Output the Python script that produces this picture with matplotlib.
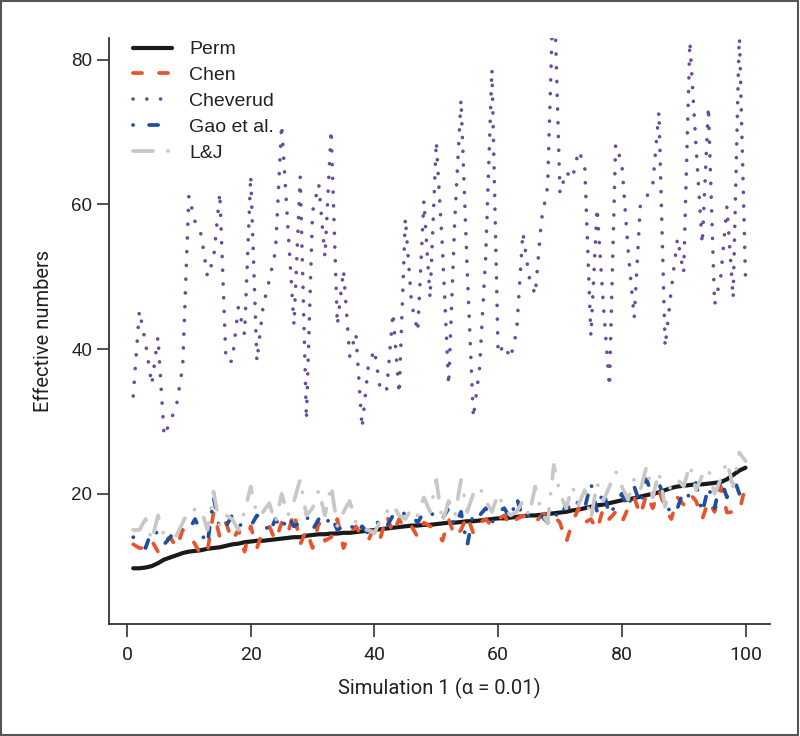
import matplotlib
matplotlib.use("Agg")
import matplotlib.pyplot as plt
from matplotlib.patches import Rectangle

sim = list(range(1, 101))

perm = [9.7, 9.7, 9.8, 10.0, 10.4, 10.9, 11.2, 11.5, 11.8, 12.0,
        12.1, 12.2, 12.4, 12.5, 12.6, 12.8, 13.0, 13.1, 13.3, 13.4,
        13.5, 13.5, 13.6, 13.7, 13.8, 13.9, 14.0, 14.0, 14.2, 14.3,
        14.4, 14.4, 14.5, 14.5, 14.6, 14.6, 14.7, 14.8, 14.9, 15.0,
        15.1, 15.2, 15.3, 15.4, 15.5, 15.6, 15.6, 15.7, 15.7, 15.8,
        15.9, 16.0, 16.0, 16.1, 16.2, 16.2, 16.3, 16.4, 16.5, 16.6,
        16.6, 16.7, 16.8, 16.9, 17.0, 17.0, 17.1, 17.2, 17.3, 17.4,
        17.5, 17.7, 17.8, 18.0, 18.2, 18.4, 18.5, 18.7, 18.9, 19.1,
        19.2, 19.4, 19.6, 19.8, 20.0, 20.2, 20.5, 20.8, 21.0, 21.1,
        21.2, 21.3, 21.3, 21.4, 21.5, 21.6, 22.0, 22.6, 23.2, 23.6]

chen = [13.0, 12.5, 12.5, 13.5, 12.0, 13.5, 14.0, 12.5, 15.0, 14.5,
        13.0, 11.5, 12.0, 17.5, 14.0, 16.0, 13.5, 15.0, 12.0, 15.5,
        12.5, 15.0, 15.5, 13.5, 16.0, 14.5, 17.5, 13.0, 15.0, 12.5,
        16.0, 13.5, 14.0, 16.5, 12.5, 14.5, 15.5, 14.0, 13.5, 15.5,
        14.0, 17.0, 14.5, 16.5, 15.0, 15.5, 14.0, 16.0, 15.5, 15.0,
        13.5, 16.5, 14.0, 15.0, 17.0, 14.5, 16.0, 16.5, 15.5, 16.5,
        17.0, 15.5, 16.5, 17.0, 16.5, 16.0, 17.0, 17.5, 17.0, 16.0,
        13.3, 16.0, 18.0, 16.0, 16.5, 15.0, 18.0, 16.5, 17.5, 16.0,
        18.0, 19.5, 17.0, 20.0, 18.0, 20.5, 18.0, 16.5, 19.5, 18.5,
        20.0, 19.0, 16.5, 19.0, 17.5, 21.0, 17.4, 17.5, 17.5, 21.2]

cheverud = [33.5, 45.3, 40.8, 35.1, 41.7, 28.0, 30.0, 32.2, 37.6, 61.2,
            57.6, 55.8, 50.0, 52.5, 61.6, 38.3, 38.3, 45.8, 42.0, 64.0,
            38.3, 45.9, 49.5, 53.5, 71.0, 57.0, 43.3, 63.8, 30.2, 59.0,
            62.8, 52.7, 70.3, 43.3, 50.9, 39.0, 42.2, 29.1, 37.6, 39.9,
            34.1, 34.5, 45.0, 33.8, 58.1, 46.3, 42.4, 60.5, 47.0, 68.7,
            54.0, 35.0, 58.0, 74.5, 51.0, 30.5, 37.4, 53.0, 78.7, 39.3,
            40.6, 38.7, 42.5, 56.1, 50.0, 47.5, 57.8, 62.4, 92.0, 61.5,
            64.5, 63.5, 67.4, 65.5, 41.8, 59.5, 46.3, 34.8, 68.3, 65.7,
            53.8, 44.3, 60.0, 61.0, 62.7, 72.8, 40.3, 48.2, 55.3, 50.5,
            82.5, 68.0, 54.5, 73.5, 46.1, 50.0, 59.7, 47.0, 84.0, 49.6]

gao = [14.0, 13.5, 12.5, 15.0, 14.5, 13.0, 14.0, 15.5, 15.0, 15.0,
       16.5, 14.5, 13.0, 19.5, 15.0, 15.5, 17.0, 15.5, 16.0, 15.5,
       17.0, 16.5, 14.5, 16.5, 15.0, 17.0, 15.5, 16.0, 17.0, 15.0,
       16.5, 15.5, 17.0, 15.0, 15.5, 16.0, 14.5, 15.5, 14.5, 15.5,
       16.5, 15.5, 17.0, 16.5, 17.5, 17.0, 16.0, 17.5, 17.0, 17.5,
       16.5, 18.0, 15.5, 17.5, 12.8, 17.5, 17.0, 18.0, 16.0, 17.5,
       18.0, 16.5, 19.5, 16.5, 17.0, 17.5, 17.0, 16.0, 17.5, 16.5,
       18.5, 17.5, 19.0, 18.0, 21.5, 17.5, 20.5, 17.0, 18.5, 20.0,
       18.0, 21.0, 18.5, 22.0, 19.5, 21.5, 19.0, 17.1, 18.0, 20.5,
       19.5, 21.5, 17.3, 21.0, 18.0, 22.0, 19.5, 22.5, 20.0, 19.5]

lj = [15.0, 15.0, 16.5, 13.5, 17.0, 14.2, 14.2, 14.2, 16.0, 17.8,
      17.8, 17.8, 15.0, 20.3, 15.5, 17.0, 16.5, 15.0, 17.5, 21.0,
      17.0, 17.5, 18.7, 16.0, 20.0, 17.0, 19.0, 22.0, 17.0, 18.0,
      20.5, 17.0, 21.2, 15.5, 17.5, 19.0, 16.0, 15.0, 15.0, 14.5,
      16.5, 17.5, 18.5, 17.0, 16.5, 18.0, 17.0, 19.5, 17.5, 21.9,
      16.0, 19.0, 17.0, 21.9, 17.5, 20.0, 21.0, 19.0, 17.5, 20.0,
      18.0, 17.0, 17.5, 19.0, 17.0, 21.0, 17.5, 16.0, 24.0, 20.0,
      18.0, 21.0, 18.5, 20.5, 16.5, 21.5, 19.0, 21.0, 23.1, 21.0,
      19.2, 22.0, 20.5, 23.8, 19.5, 23.0, 18.2, 21.5, 22.0, 21.0,
      24.0, 20.5, 22.5, 23.5, 20.0, 22.0, 24.5, 21.0, 25.7, 24.5]

series_labels = ["Perm", "Chen", "Cheverud", "Gao et al.", "L&J"]
x_ticks = [0, 20, 40, 60, 80, 100]
y_ticks = [20, 40, 60, 80]

plt.rcParams['lines.scale_dashes'] = False
narrow = ['Roboto', 'DejaVu Sans']
plain = ['Liberation Sans', 'DejaVu Sans']

fig = plt.figure(figsize=(8.0, 7.36), dpi=100)
ax = fig.add_axes([0.1359, 0.1522, 0.8266, 0.7963])

lw = 2.7
ax.plot(sim, perm, color='#1a1a1a', lw=3.0, solid_capstyle='round',
        label=series_labels[0], zorder=3)
ax.plot(sim, chen, color='#e8552d', lw=lw, dashes=(6.5, 12.2),
        dash_capstyle='round', label=series_labels[1], zorder=3)
ax.plot(sim, cheverud, color='#6b4c9a', lw=2.6, dashes=(0.1, 9.8),
        dash_capstyle='round', label=series_labels[2], zorder=3)
ax.plot(sim, gao, color='#1f4f9f', lw=lw, dashes=(0.1, 11.5, 6.5, 11.5),
        dash_capstyle='round', label=series_labels[3], zorder=3)
ax.plot(sim, lj, color='#c8c8c8', lw=lw, dashes=(14.4, 10.8, 0.1, 10.8),
        dash_capstyle='round', label=series_labels[4], zorder=3)

ax.set_xlim(-2.96, 103.96)
ax.set_ylim(2.0, 83.0)
for s in ['top', 'right']:
    ax.spines[s].set_visible(False)
for s in ['left', 'bottom']:
    ax.spines[s].set_color('#333333')
    ax.spines[s].set_linewidth(1.3)

ax.set_xticks(x_ticks)
ax.set_yticks(y_ticks)
ax.tick_params(axis='both', direction='out', length=9, width=1.2,
               color='#333333', labelcolor='#222222')
ax.tick_params(axis='y', pad=3)
ax.tick_params(axis='x', pad=7)
for lab in ax.get_xticklabels():
    lab.set_fontfamily(narrow)
    lab.set_fontsize(14)
for lab in ax.get_yticklabels():
    lab.set_fontfamily(plain)
    lab.set_fontsize(13.5)

ax.set_xlabel("Simulation 1 (\u03b1 = 0.01)", family=narrow, fontsize=14.5,
              color='#222222', labelpad=10)
ax.set_ylabel("Effective numbers", family=narrow, fontsize=14.5,
              color='#222222', labelpad=13)

leg = ax.legend(loc='upper left', bbox_to_anchor=(0.036, 0.995),
                frameon=False, borderpad=0, borderaxespad=0,
                handlelength=2.05, handletextpad=0.85, labelspacing=0.42,
                prop={'family': plain, 'size': 14})
for t in leg.get_texts():
    t.set_color('#222222')

fig.patches.append(Rectangle((0.001, 0.001), 0.997, 0.997,
                             transform=fig.transFigure, fill=False,
                             edgecolor='#555555', lw=1.5))

fig.savefig("out.png", dpi=100)
